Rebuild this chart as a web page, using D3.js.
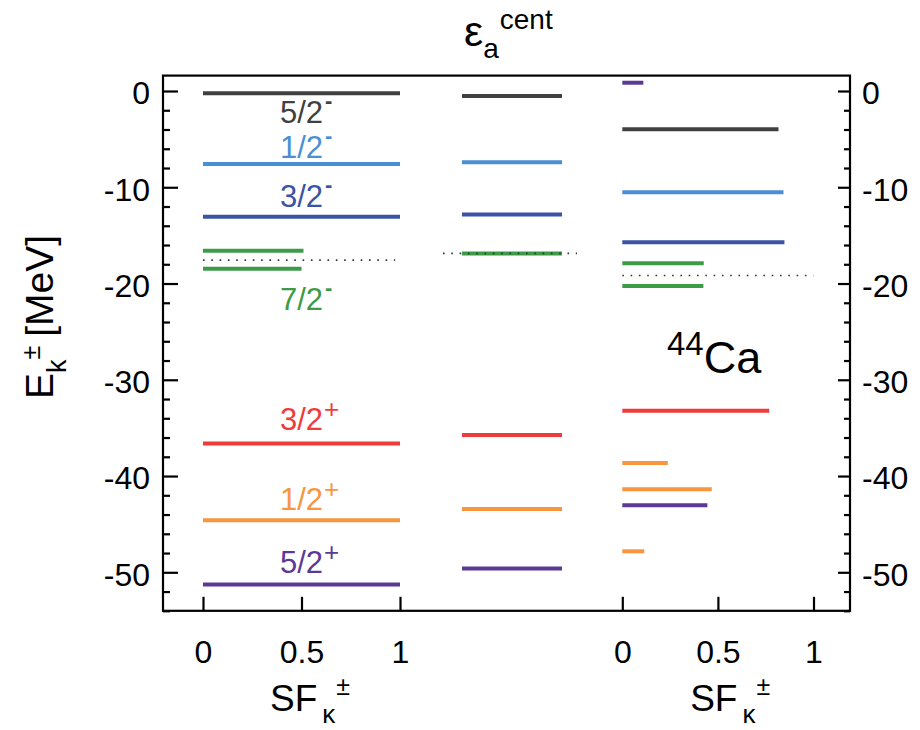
<!DOCTYPE html>
<html><head><meta charset="utf-8">
<script src="https://cdn.jsdelivr.net/npm/d3@7"></script>
<style>
html,body{margin:0;padding:0;background:#fff;}
svg text{font-family:"Liberation Sans",Arial,Helvetica,sans-serif;}
</style></head>
<body><svg id="chart" width="920" height="730"></svg>
<script>
// ---------- data ----------
const orbitals = ["5/2-","1/2-","3/2-","7/2-","3/2+","1/2+","5/2+"];
const orbitalText = ["5/2","1/2","3/2","7/2","3/2","1/2","5/2"];
const orbitalParity = ["-","-","-","-","+","+","+"];
const labelE = [-3.3,-7.0,-12.0,-22.77,-35.17,-43.56,-50.07];

const sfLeftOrbital = ["5/2-","1/2-","3/2-","7/2-","7/2-","3/2+","1/2+","5/2+"];
const sfLeftE  = [-0.24,-7.59,-13.06,-16.6,-18.47,-36.62,-44.6,-51.28];
const sfLeftSF = [1,1,1,0.51,0.5,1,1,1];

const centOrbital = ["5/2-","1/2-","3/2-","7/2-","3/2+","1/2+","5/2+"];
const centE = [-0.52,-7.41,-12.82,-16.87,-35.73,-43.42,-49.6];

const sfRightOrbital = ["5/2+","5/2-","1/2-","3/2-","7/2-","7/2-","3/2+","1/2+","1/2+","5/2+","1/2+"];
const sfRightE  = [0.86,-3.98,-10.53,-15.7,-17.9,-20.27,-33.23,-38.64,-41.37,-43.04,-47.82];
const sfRightSF = [0.11,0.817,0.843,0.848,0.426,0.424,0.768,0.238,0.468,0.445,0.115];

const fermiE = [-17.57,-16.87,-19.16];

const yTicks = [0,-10,-20,-30,-40,-50];
const yMinor = d3.range(-54,2,2).filter(v => v % 10 !== 0);
const xTicks = [0,0.5,1];
const xTickLabels = ["0","0.5","1"];

// ---------- styles ----------
const orbitalColor = {
  "5/2-":"#404040","1/2-":"#4a8fd4","3/2-":"#3b53a4","7/2-":"#3d9a47",
  "3/2+":"#ef3b3b","1/2+":"#f7963e","5/2+":"#5b3995"
};

// ---------- layout ----------
const svg = d3.select("#chart");
const frame = {left:163, right:850};
const y = d3.scaleLinear().domain([0,-50]).range([91,572.3]);
const yTop = y(1.6), yBot = y(-54);
const xL = d3.scaleLinear().domain([0,1]).range([203,400]);
const xM = d3.scaleLinear().domain([0,1]).range([462,562]);
const xR = d3.scaleLinear().domain([0,1]).range([622.3,813.5]);
const FS = 32;
const LFS = 31;

// levels
const g = svg.append("g");
function drawLevels(orbs, Es, x0, x1){
  g.selectAll(null).data(orbs.map((o,i)=>({o,e:Es[i],i}))).enter().append("line")
    .attr("x1", d=>x0(d)).attr("x2", d=>x1(d))
    .attr("y1", d=>y(d.e)).attr("y2", d=>y(d.e))
    .attr("stroke", d=>orbitalColor[d.o]).attr("stroke-width",4);
}
drawLevels(sfLeftOrbital, sfLeftE, ()=>xL(0), d=>xL(sfLeftSF[d.i]));
drawLevels(centOrbital, centE, ()=>xM(0), ()=>xM(1));
drawLevels(sfRightOrbital, sfRightE, ()=>xR(0), d=>xR(sfRightSF[d.i]));

// fermi dotted lines
const fermiSpans = [[xL(0),xL(0.975)],[xM(-0.19),xM(1.15)],[xR(0),xR(1)]];
g.selectAll(null).data(fermiE).enter().append("line")
  .attr("x1",(d,i)=>fermiSpans[i][0]).attr("x2",(d,i)=>fermiSpans[i][1])
  .attr("y1",d=>y(d)).attr("y2",d=>y(d))
  .attr("stroke","#333").attr("stroke-width",1.6).attr("stroke-dasharray","1.6 6.7");

// frame
svg.append("rect").attr("x",frame.left).attr("y",yTop)
  .attr("width",frame.right-frame.left).attr("height",yBot-yTop)
  .attr("fill","none").attr("stroke","#000").attr("stroke-width",2.2);

// y axes
function styleAxis(sel){
  sel.select(".domain").remove();
  sel.selectAll(".tick line").attr("stroke","#000").attr("stroke-width",2.2);
  sel.selectAll("text").attr("font-size",FS).attr("fill","#000")
    .attr("font-family",'"Liberation Sans",Arial,sans-serif').attr("dy","0.40em");
}
svg.append("g").attr("transform",`translate(${frame.left},0)`)
  .call(d3.axisLeft(y).tickValues(yTicks).tickSizeInner(-15).tickSizeOuter(0).tickPadding(13).tickFormat(d=>String(d)))
  .call(styleAxis);
svg.append("g").attr("transform",`translate(${frame.left},0)`)
  .call(d3.axisLeft(y).tickValues(yMinor).tickSizeInner(-7).tickSizeOuter(0).tickFormat(""))
  .call(styleAxis);
svg.append("g").attr("transform",`translate(${frame.right},0)`)
  .call(d3.axisRight(y).tickValues(yTicks).tickSizeInner(-12).tickSizeOuter(0).tickPadding(12).tickFormat(d=>String(d)))
  .call(styleAxis);
svg.append("g").attr("transform",`translate(${frame.right},0)`)
  .call(d3.axisRight(y).tickValues(yMinor).tickSizeInner(-6).tickSizeOuter(0).tickFormat(""))
  .call(styleAxis);

// x axes
[xL,xR].forEach(sc=>{
  const ax = svg.append("g").attr("transform",`translate(0,${yBot})`)
    .call(d3.axisBottom(sc).tickValues(xTicks).tickSizeInner(-14).tickSizeOuter(0).tickPadding(30)
      .tickFormat((d,i)=>xTickLabels[i]));
  ax.select(".domain").remove();
  ax.selectAll(".tick line").attr("stroke","#000").attr("stroke-width",2.2);
  ax.selectAll("text").attr("font-size",FS).attr("fill","#000").attr("dy","0.68em")
    .attr("font-family",'"Liberation Sans",Arial,sans-serif');
});

// orbital labels (left panel)
orbitals.forEach((o,i)=>{
  const cx = xL(0.5), by = y(labelE[i]);
  const t = svg.append("text").attr("x",cx).attr("y",by).attr("text-anchor","middle")
    .attr("font-size",LFS).attr("fill",orbitalColor[o]).text(orbitalText[i]);
  const w = t.node().getComputedTextLength();
  const plus = orbitalParity[i]==="+";
  svg.append("text").attr("x",cx+w/2+(plus?1:2)).attr("y",by+(plus?-12:-15))
    .attr("font-size",plus?26:22).attr("font-weight",plus?"normal":"bold")
    .attr("fill",orbitalColor[o]).text(orbitalParity[i]);
});

// 44Ca
const ca = svg.append("text").attr("x",667).attr("y",373);
ca.append("tspan").attr("font-size",33).attr("dy",-18).text("44");
ca.append("tspan").attr("font-size",45).attr("dy",18).text("Ca");

// title
const tt = svg.append("text").attr("x",464).attr("y",46);
tt.append("tspan").attr("font-size",43).text("ε");
tt.append("tspan").attr("font-size",28).attr("dy",12).text("a");
tt.append("tspan").attr("font-size",28).attr("dy",-29).attr("dx",1).text("cent");

// x labels
function sfLabel(x){
  const t = svg.append("text").attr("x",x).attr("y",711);
  t.append("tspan").attr("font-size",37).text("SF");
  t.append("tspan").attr("font-size",26).attr("dy",12).attr("dx",5).text("κ");
  t.append("tspan").attr("font-size",25).attr("dy",-28).attr("dx",1).text("±");
}
sfLabel(xL(0.34));
sfLabel(xR(0.355));

// y label
const yl = svg.append("text").attr("transform","translate(53,317) rotate(-90)").attr("text-anchor","middle");
yl.append("tspan").attr("font-size",39).text("E");
yl.append("tspan").attr("font-size",27).attr("dy",13).text("k");
yl.append("tspan").attr("font-size",25).attr("dy",-26).text("±");
yl.append("tspan").attr("font-size",39).attr("dy",13).attr("dx",9).text("[MeV]");
</script></body></html>
